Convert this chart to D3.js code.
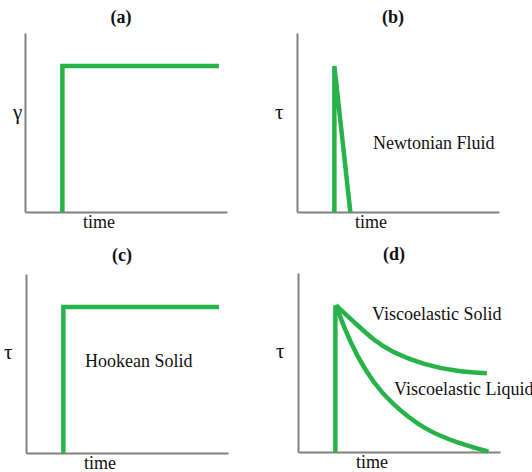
<!DOCTYPE html>
<html>
<head>
<meta charset="utf-8">
<script src="https://cdn.jsdelivr.net/npm/d3@7"></script>
<style>
  body { margin: 0; background: #fff; }
  text { font-family: "Liberation Serif", "Times New Roman", serif; font-size: 18px; fill: #111; }
</style>
</head>
<body>
<svg id="plot"></svg>
<script>
// panel titles and axis names
var titles = ["(a)", "(b)", "(c)", "(d)"];
var yNames = ["γ", "τ", "τ", "τ"];
var xName = "time";

// curves, [time, value] on a 0-100 scale
var strainA = [[18.5, 0], [18.5, 81.5], [96, 81.5]];
var newtonB = [[18.5, 0], [18.5, 81.5], [26.4, 0]];
var hookeC = [[18.5, 0], [18.5, 81.5], [95.5, 81.5]];
var stepD = [[18.5, 0], [18.5, 82]];
var solidD = [[18.8, 82], [29.3, 70.9], [37.5, 62.6], [46, 56], [62.5, 48.6], [79.3, 44.9], [93.5, 44]];
var liquidD = [[18.8, 82], [22.6, 70], [29.3, 53.2], [37.5, 38.5], [46, 27.4], [62.5, 12.3], [79.3, 5], [94.3, 0.2]];

var notes = ["Newtonian Fluid", "Hookean Solid", "Viscoelastic Solid", "Viscoelastic Liquid"];

var green = "#26b34a";
var w = 202, h = 179;
var pos = [{x: 25, y: 33}, {x: 297, y: 33}, {x: 26, y: 274}, {x: 298, y: 273}];

var svg = d3.select("#plot").attr("width", 532).attr("height", 472);

var x = d3.scaleLinear().domain([0, 100]).range([0, w]);
var y = d3.scaleLinear().domain([0, 100]).range([h, 0]);

var panels = pos.map(function(p, i) {
  var g = svg.append("g").attr("transform", "translate(" + p.x + "," + p.y + ")");

  // axes with no ticks, just the gray lines
  var ax = g.append("g")
    .attr("transform", "translate(0," + h + ")")
    .call(d3.axisBottom(x).ticks(0).tickSizeOuter(0));
  var ay = g.append("g")
    .call(d3.axisLeft(y).ticks(0).tickSizeOuter(0));
  [ax, ay].forEach(function(a) {
    a.select(".domain").attr("stroke", "#808080").attr("stroke-width", 2);
  });

  g.append("text")
    .attr("x", 96).attr("y", i < 2 ? -10 : -13)
    .attr("text-anchor", "middle")
    .style("font-weight", "bold")
    .text(titles[i]);

  g.append("text")
    .attr("x", i == 0 ? -12 : -22).attr("y", i < 2 ? 86 : 85)
    .style("font-size", "21px")
    .text(yNames[i]);

  g.append("text")
    .attr("x", 58).attr("y", h + 16)
    .text(xName);

  return g;
});

var line = d3.line().x(function(d) { return x(d[0]) }).y(function(d) { return y(d[1]) });
var curve = d3.line().curve(d3.curveBasis).x(function(d) { return x(d[0]) }).y(function(d) { return y(d[1]) });

function draw(g, data, gen) {
  g.append("path")
    .datum(data)
    .attr("d", gen)
    .attr("fill", "none")
    .attr("stroke", green)
    .attr("stroke-width", 4.5)
    .attr("stroke-linejoin", "miter");
}

draw(panels[0], strainA, line);
draw(panels[1], newtonB, line);
draw(panels[2], hookeC, line);
draw(panels[3], stepD, line);
draw(panels[3], solidD, curve);
draw(panels[3], liquidD, curve);

panels[1].append("text").attr("x", 76).attr("y", 116).text(notes[0]);
panels[2].append("text").attr("x", 59).attr("y", 93).text(notes[1]);
panels[3].append("text").attr("x", 74).attr("y", 47).text(notes[2]);
panels[3].append("text").attr("x", 96).attr("y", 122).text(notes[3]);
</script>
</body>
</html>
